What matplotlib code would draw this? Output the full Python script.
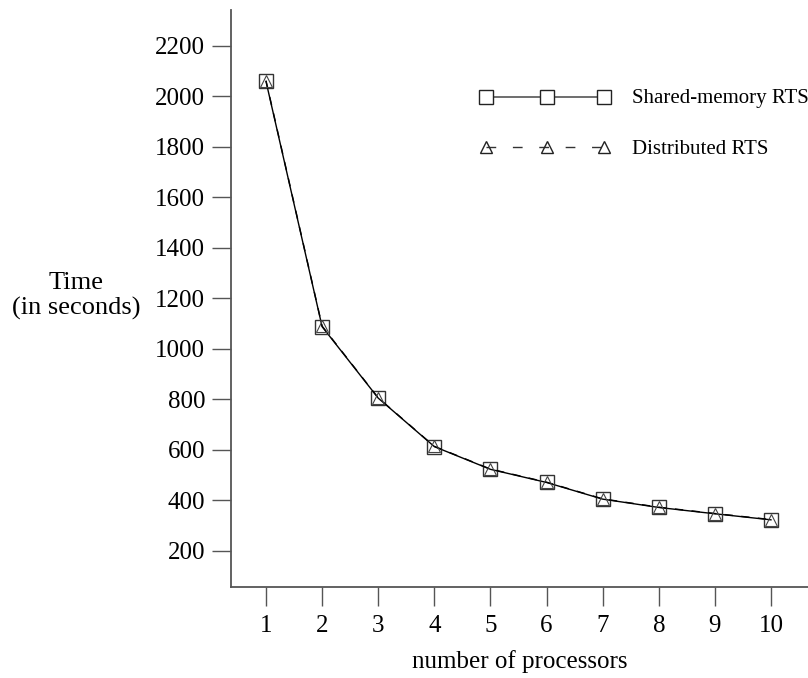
import matplotlib
matplotlib.use("Agg")
import matplotlib.pyplot as plt
from matplotlib.lines import Line2D

processors = [1, 2, 3, 4, 5, 6, 7, 8, 9, 10]
shared_memory = [2059, 1088, 805, 613, 523, 471, 405, 372, 347, 323]
distributed = [2062, 1090, 806, 614, 524, 472, 406, 373, 348, 324]
yticks = [200, 400, 600, 800, 1000, 1200, 1400, 1600, 1800, 2000, 2200]

plt.rcParams['font.family'] = ['Liberation Serif', 'DejaVu Serif']

fig = plt.figure(figsize=(8.08, 6.78), dpi=100)
ax = fig.add_axes([231/808, 91/678, 577/808, 577/678])

ax.plot(processors, shared_memory, color='black', lw=1.0, marker='s', ms=10,
        mfc='none', mec='#333333', mew=1.0, zorder=3)
ax.plot(processors, distributed, color='black', lw=1.0, ls=(0, (6, 6)), marker='^', ms=8,
        mfc='none', mec='#444444', mew=0.8, zorder=3)

ax.set_xlim(0.376, 10.66)
ax.set_ylim(57, 2342)
ax.set_xticks(processors)
ax.set_yticks(yticks)
for s in ['top', 'right']:
    ax.spines[s].set_visible(False)
for s in ['left', 'bottom']:
    ax.spines[s].set_color('#555555')
    ax.spines[s].set_linewidth(1.3)
ax.tick_params(axis='y', direction='out', length=13.5, width=1.0, color='#555555',
               labelsize=18, pad=5)
ax.tick_params(axis='x', direction='out', length=13.5, width=1.0, color='#555555',
               labelsize=18, pad=7)

ax.set_xlabel('number of processors', fontsize=18, labelpad=9)
fig.text(76/808, 1 - 296/678, 'Time\n(in seconds)', fontsize=19, ha='center', va='center',
         linespacing=1.12)

# legend
lx = [486, 547, 604]
def fx(px):
    return px / 808
def fy(py):
    return 1 - py / 678
fig.add_artist(Line2D([fx(486), fx(604)], [fy(97), fy(97)], color='#555555', lw=1.2,
                      transform=fig.transFigure))
for x in lx:
    fig.add_artist(Line2D([fx(x)], [fy(97)], marker='s', ms=10, mfc='white', mec='#222222',
                          mew=1.0, ls='none', transform=fig.transFigure))
fig.add_artist(Line2D([fx(486), fx(604)], [fy(147), fy(147)], color='#333333', lw=1.0,
                      ls=(0, (7, 12)), transform=fig.transFigure))
for x in lx:
    fig.add_artist(Line2D([fx(x)], [fy(147)], marker='^', ms=8, mfc='none', mec='#222222',
                          mew=1.0, ls='none', transform=fig.transFigure))
fig.text(fx(632), fy(98), 'Shared-memory RTS', fontsize=15, va='center', ha='left')
fig.text(fx(632), fy(150), 'Distributed RTS', fontsize=15, va='center', ha='left')

fig.savefig('out.png', dpi=100)
